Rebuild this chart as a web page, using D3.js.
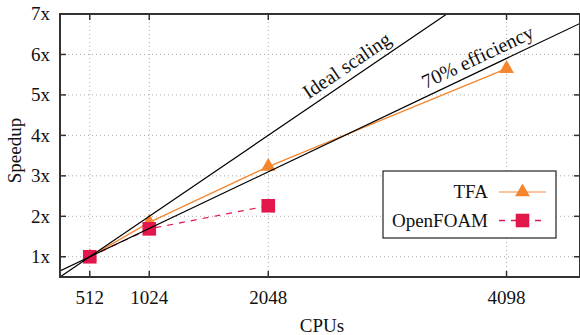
<!DOCTYPE html>
<html>
<head>
<meta charset="utf-8">
<script src="https://cdn.jsdelivr.net/npm/d3@7"></script>
<style>
  body { margin: 0; background: #fff; }
  text { font-family: "Liberation Serif", "DejaVu Serif", serif; fill: #111; }
</style>
</head>
<body>
<div id="chart"></div>
<script>
const width = 580
const height = 335

const margin = { top: 14, bottom: 58, left: 60, right: 0 }

// data
const cpus = [512, 1024, 2048, 4098]
const tfaSpeedup = [1, 1.85, 3.23, 5.65]
const foamCpus = [512, 1024, 2048]
const foamSpeedup = [1, 1.69, 2.26]
const xTicks = [512, 1024, 2048, 4098]
const yTicks = [1, 2, 3, 4, 5, 6, 7]
const yTickLabels = ["1x", "2x", "3x", "4x", "5x", "6x", "7x"]
const seriesNames = ["TFA", "OpenFOAM"]
const baseCpus = 512
const efficiency = 0.7

const tfaColor = "#f5862e"
const foamColor = "#e2184d"

const svg = d3.select("div#chart").append("svg").attr("width", width).attr("height", height)

const innerW = width - margin.left - margin.right
const innerH = height - margin.top - margin.bottom

const x = d3.scaleLinear().domain([256, 4730]).range([0, innerW])
const y = d3.scaleLinear().domain([0.5, 7]).range([innerH, 0])

const g = svg.append("g").attr("transform", `translate(${margin.left},${margin.top})`)

svg.append("defs").append("clipPath").attr("id", "clip")
    .append("rect").attr("width", innerW).attr("height", innerH)

// grid
g.append("g").selectAll("line").data(yTicks).join("line")
    .attr("x1", 0).attr("x2", innerW)
    .attr("y1", d => y(d)).attr("y2", d => y(d))
    .attr("stroke", "#aaa").attr("stroke-width", 1).attr("stroke-dasharray", "1,3")
g.append("g").selectAll("line").data(xTicks).join("line")
    .attr("y1", 0).attr("y2", innerH)
    .attr("x1", d => x(d)).attr("x2", d => x(d))
    .attr("stroke", "#aaa").attr("stroke-width", 1).attr("stroke-dasharray", "1,3")

const plot = g.append("g").attr("clip-path", "url(#clip)")

// series
const tfaData = cpus.map((c, i) => ({ c: c, s: tfaSpeedup[i] }))
const foamData = foamCpus.map((c, i) => ({ c: c, s: foamSpeedup[i] }))
const line = d3.line().x(d => x(d.c)).y(d => y(d.s))

plot.append("path").datum(foamData).attr("d", line)
    .attr("fill", "none").attr("stroke", foamColor).attr("stroke-width", 1.2)
    .attr("stroke-dasharray", "6,6")
plot.append("path").datum(tfaData).attr("d", line)
    .attr("fill", "none").attr("stroke", tfaColor).attr("stroke-width", 1.3)

const tri = d3.symbol().type(d3.symbolTriangle).size(95)
const sq = d3.symbol().type(d3.symbolSquare).size(185)

plot.selectAll(".tfa").data(tfaData).join("path").attr("class", "tfa")
    .attr("transform", d => `translate(${x(d.c)},${y(d.s)})`)
    .attr("d", tri).attr("fill", tfaColor)
plot.selectAll(".foam").data(foamData).join("path").attr("class", "foam")
    .attr("transform", d => `translate(${x(d.c)},${y(d.s)})`)
    .attr("d", sq).attr("fill", foamColor)

// reference lines
const ideal = c => c / baseCpus
const eff = c => 1 + efficiency * (c / baseCpus - 1)
const dom = x.domain()
const refLines = [
    { f: ideal, label: "Ideal scaling", at: 2790 },
    { f: eff, label: "70% efficiency", at: 3900 }
]
refLines.forEach(r => {
    plot.append("path").datum(dom.map(c => ({ c: c, s: r.f(c) }))).attr("d", line)
        .attr("fill", "none").attr("stroke", "#000").attr("stroke-width", 1.2)
    const ang = Math.atan2(y(r.f(dom[1])) - y(r.f(dom[0])), x(dom[1]) - x(dom[0])) * 180 / Math.PI
    g.append("text")
        .attr("transform", `translate(${x(r.at)},${y(r.f(r.at))}) rotate(${ang})`)
        .attr("dy", -7).attr("text-anchor", "middle")
        .attr("font-size", 20).text(r.label)
})

// frame
g.append("rect").attr("width", innerW).attr("height", innerH)
    .attr("fill", "none").attr("stroke", "#333").attr("stroke-width", 2)

// ticks
const tl = 6
g.append("g").selectAll("line").data(yTicks).join("line")
    .attr("x1", 0).attr("x2", tl).attr("y1", d => y(d)).attr("y2", d => y(d))
    .attr("stroke", "#333").attr("stroke-width", 1.5)
g.append("g").selectAll("line").data(yTicks).join("line")
    .attr("x1", innerW - tl).attr("x2", innerW).attr("y1", d => y(d)).attr("y2", d => y(d))
    .attr("stroke", "#333").attr("stroke-width", 1.5)
g.append("g").selectAll("line").data(xTicks).join("line")
    .attr("y1", innerH - tl).attr("y2", innerH).attr("x1", d => x(d)).attr("x2", d => x(d))
    .attr("stroke", "#333").attr("stroke-width", 1.5)
g.append("g").selectAll("line").data(xTicks).join("line")
    .attr("y1", 0).attr("y2", tl).attr("x1", d => x(d)).attr("x2", d => x(d))
    .attr("stroke", "#333").attr("stroke-width", 1.5)

// tick labels
g.append("g").selectAll("text").data(yTicks).join("text")
    .attr("x", -10).attr("y", d => y(d)).attr("dy", "0.33em")
    .attr("text-anchor", "end").attr("font-size", 19)
    .text((d, i) => yTickLabels[i])
g.append("g").selectAll("text").data(xTicks).join("text")
    .attr("x", d => x(d)).attr("y", innerH + 27)
    .attr("text-anchor", "middle").attr("font-size", 19)
    .text(d => d)

// axis titles
svg.append("text").attr("transform", `translate(21,${margin.top + innerH / 2 + 5}) rotate(-90)`)
    .attr("text-anchor", "middle").attr("font-size", 19).text("Speedup")
svg.append("text").attr("x", margin.left + innerW / 2 + 2).attr("y", 332)
    .attr("text-anchor", "middle").attr("font-size", 19).text("CPUs")

// legend
const leg = svg.append("g").attr("transform", "translate(383,171)")
leg.append("rect").attr("width", 173).attr("height", 67)
    .attr("fill", "#fff").attr("stroke", "#222").attr("stroke-width", 1.2)
const rows = [
    { name: seriesNames[0], color: tfaColor, dash: null, sym: tri, lc: "#f8b27e" },
    { name: seriesNames[1], color: foamColor, dash: "6,6", sym: sq, lc: foamColor }
]
rows.forEach((r, i) => {
    const cy = 21 + i * 28.5
    leg.append("text").attr("x", 105).attr("y", cy).attr("dy", "0.33em")
        .attr("text-anchor", "end").attr("font-size", 19).text(r.name)
    leg.append("line").attr("x1", 116).attr("x2", 163).attr("y1", cy).attr("y2", cy)
        .attr("stroke", r.lc).attr("stroke-width", 1.6).attr("stroke-dasharray", r.dash)
    leg.append("path").attr("transform", `translate(139.5,${cy})`)
        .attr("d", r.sym).attr("fill", r.color)
})
</script>
</body>
</html>
